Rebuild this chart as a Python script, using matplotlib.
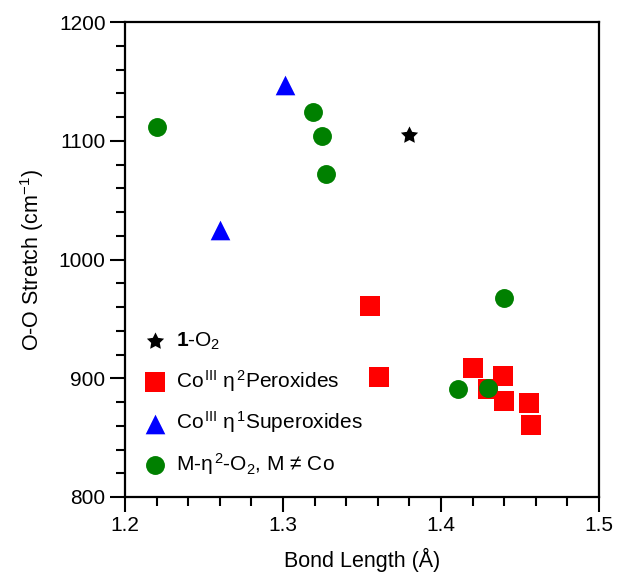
import matplotlib
matplotlib.use("Agg")
import matplotlib.pyplot as plt
from matplotlib.ticker import MultipleLocator
from matplotlib.path import Path

plt.rcParams['font.family'] = ['Liberation Sans', 'DejaVu Sans']
plt.rcParams['mathtext.fontset'] = 'custom'
plt.rcParams['mathtext.rm'] = 'Liberation Sans'
plt.rcParams['mathtext.it'] = 'Liberation Sans:italic'
plt.rcParams['mathtext.bf'] = 'Liberation Sans:bold'

# Data
star_x = [1.380]
star_y = [1105]

perox_x = [1.355, 1.361, 1.420, 1.439, 1.430, 1.440, 1.456, 1.457]
perox_y = [961, 901, 909, 902, 891, 881, 879, 861]

super_x = [1.301, 1.260]
super_y = [1147, 1025]

metal_x = [1.220, 1.319, 1.325, 1.327, 1.440, 1.411, 1.430]
metal_y = [1112, 1124, 1104, 1072, 968, 891, 892]

labels = [r"$\mathbf{1}$-O$_2$",
          r"Co$^{\,\mathrm{III}}$ η$^{\,2}$Peroxides",
          r"Co$^{\,\mathrm{III}}$ η$^{\,1}$Superoxides",
          r"M-η$^{\,2}$-O$_2$, M ≠ Co"]

star_marker = Path.unit_regular_star(5, innerCircle=0.5)

fig = plt.figure(figsize=(6.17, 5.73), dpi=100)
ax = fig.add_axes([125/617, 1-497/573, (599-125)/617, (497-22)/573])

ax.scatter(star_x, star_y, marker=star_marker, s=170, color='black', linewidths=0, label=labels[0], zorder=3)
ax.scatter(perox_x, perox_y, marker='s', s=190, color='#ff0000', linewidths=0, label=labels[1], zorder=3)
ax.scatter(super_x, super_y, marker='^', s=200, color='#0000ff', linewidths=0, label=labels[2], zorder=3)
ax.scatter(metal_x, metal_y, marker='o', s=185, color='#008000', linewidths=0, label=labels[3], zorder=3)

ax.set_xlim(1.2, 1.5)
ax.set_ylim(800, 1200)
ax.xaxis.set_major_locator(MultipleLocator(0.1))
ax.xaxis.set_minor_locator(MultipleLocator(0.02))
ax.yaxis.set_major_locator(MultipleLocator(100))
ax.yaxis.set_minor_locator(MultipleLocator(20))
ax.xaxis.set_major_formatter(matplotlib.ticker.FormatStrFormatter('%.1f'))

for s in ax.spines.values():
    s.set_linewidth(1.6)
ax.tick_params(which='major', direction='out', length=11, width=1.5, labelsize=15, pad=3)
ax.tick_params(which='minor', direction='out', length=6.5, width=1.5)

ax.set_xlabel("Bond Length (Å)", fontsize=15.5, labelpad=9)
ax.set_ylabel(r"O-O Stretch (cm$^{-1}$)", fontsize=15.5, labelpad=9)

leg = ax.legend(loc='lower left', bbox_to_anchor=(0.019, 0.025), frameon=False,
                fontsize=15, handlelength=1.2, handletextpad=0.4, labelspacing=0.75,
                borderaxespad=0, scatterpoints=1)

fig.savefig("out.png", dpi=100)
